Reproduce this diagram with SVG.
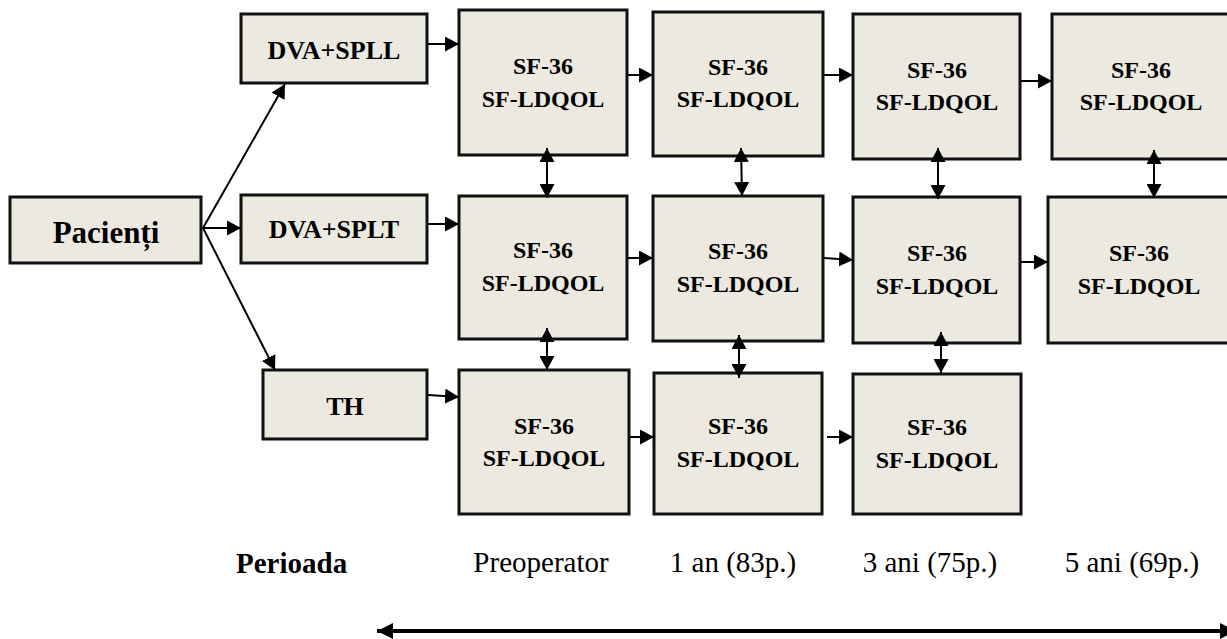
<svg xmlns="http://www.w3.org/2000/svg" width="1227" height="639" viewBox="0 0 1227 639">
  <style>
    .box { fill: #ECEAE0; stroke: #111; stroke-width: 3; }
    .lbl { font-family: "Liberation Serif", "Times New Roman", serif; font-weight: bold; fill: #000; text-anchor: middle; }
    .sf { font-size: 24px; }
    .per { font-family: "Liberation Serif", "Times New Roman", serif; font-size: 29px; fill: #000; text-anchor: middle; }
    .con { stroke: #000; stroke-width: 2; fill: none; marker-end: url(#ah); }
    .dbl { stroke: #000; stroke-width: 2; fill: none; marker-start: url(#ah); marker-end: url(#ah); }
  </style>
  <defs>
    <marker id="ah" markerUnits="userSpaceOnUse" markerWidth="14" markerHeight="15" refX="14" refY="7.5" orient="auto-start-reverse">
      <path d="M0,0 L14,7.5 L0,15 z" fill="#000"/>
    </marker>
    <marker id="ahBig" markerUnits="userSpaceOnUse" markerWidth="16" markerHeight="16" refX="16" refY="8" orient="auto-start-reverse">
      <path d="M0,0 L16,8 L0,16 z" fill="#000"/>
    </marker>
  </defs>

  <rect width="1227" height="639" fill="#fff"/>

  <!-- patient groups -->
  <g id="pacienti">
    <rect class="box" x="10" y="197" width="191" height="66"/>
    <text class="lbl" x="106" y="243" font-size="31">Pacienți</text>
  </g>
  <g id="dva-spll">
    <rect class="box" x="241" y="14" width="186" height="69"/>
    <text class="lbl" x="334" y="59" font-size="26">DVA+SPLL</text>
  </g>
  <g id="dva-splt">
    <rect class="box" x="241" y="195" width="186" height="68"/>
    <text class="lbl" x="334" y="238" font-size="26">DVA+SPLT</text>
  </g>
  <g id="th">
    <rect class="box" x="263" y="370" width="164" height="69"/>
    <text class="lbl" x="345" y="415" font-size="26">TH</text>
  </g>

  <!-- row 1: DVA+SPLL -->
  <g id="r1-preop">
    <rect class="box" x="459" y="10" width="168" height="145"/>
    <text class="lbl sf" x="543" y="74">SF-36</text>
    <text class="lbl sf" x="543" y="107">SF-LDQOL</text>
  </g>
  <g id="r1-1an">
    <rect class="box" x="653" y="12" width="170" height="144"/>
    <text class="lbl sf" x="738" y="75">SF-36</text>
    <text class="lbl sf" x="738" y="107">SF-LDQOL</text>
  </g>
  <g id="r1-3ani">
    <rect class="box" x="853" y="14" width="167" height="145"/>
    <text class="lbl sf" x="937" y="78">SF-36</text>
    <text class="lbl sf" x="937" y="110">SF-LDQOL</text>
  </g>
  <g id="r1-5ani">
    <rect class="box" x="1052" y="14" width="180" height="145"/>
    <text class="lbl sf" x="1141" y="78">SF-36</text>
    <text class="lbl sf" x="1141" y="110">SF-LDQOL</text>
  </g>

  <!-- row 2: DVA+SPLT -->
  <g id="r2-preop">
    <rect class="box" x="459" y="196" width="168" height="143"/>
    <text class="lbl sf" x="543" y="258">SF-36</text>
    <text class="lbl sf" x="543" y="291">SF-LDQOL</text>
  </g>
  <g id="r2-1an">
    <rect class="box" x="653" y="196" width="170" height="145"/>
    <text class="lbl sf" x="738" y="259">SF-36</text>
    <text class="lbl sf" x="738" y="292">SF-LDQOL</text>
  </g>
  <g id="r2-3ani">
    <rect class="box" x="853" y="197" width="167" height="146"/>
    <text class="lbl sf" x="937" y="261">SF-36</text>
    <text class="lbl sf" x="937" y="294">SF-LDQOL</text>
  </g>
  <g id="r2-5ani">
    <rect class="box" x="1048" y="197" width="184" height="146"/>
    <text class="lbl sf" x="1139" y="261">SF-36</text>
    <text class="lbl sf" x="1139" y="294">SF-LDQOL</text>
  </g>

  <!-- row 3: TH -->
  <g id="r3-preop">
    <rect class="box" x="459" y="370" width="170" height="144"/>
    <text class="lbl sf" x="544" y="434">SF-36</text>
    <text class="lbl sf" x="544" y="466">SF-LDQOL</text>
  </g>
  <g id="r3-1an">
    <rect class="box" x="654" y="373" width="168" height="141"/>
    <text class="lbl sf" x="738" y="434">SF-36</text>
    <text class="lbl sf" x="738" y="467">SF-LDQOL</text>
  </g>
  <g id="r3-3ani">
    <rect class="box" x="853" y="374" width="168" height="140"/>
    <text class="lbl sf" x="937" y="435">SF-36</text>
    <text class="lbl sf" x="937" y="468">SF-LDQOL</text>
  </g>

  <!-- follow-up periods -->
  <g id="perioade">
    <text x="236" y="573" font-family="Liberation Serif, Times New Roman, serif" font-weight="bold" font-size="29" fill="#000">Perioada</text>
    <text class="per" x="541" y="572">Preoperator</text>
    <text class="per" x="733" y="572">1 an (83p.)</text>
    <text class="per" x="930" y="572">3 ani (75p.)</text>
    <text class="per" x="1132" y="572">5 ani (69p.)</text>
  </g>

  <!-- connectors, drawn over the boxes so arrowheads stay visible -->
  <g id="connectors">
    <!-- from Pacienți to the three groups -->
    <line class="con" x1="203" y1="228" x2="285" y2="84"/>
    <line class="con" x1="203" y1="228" x2="241" y2="228"/>
    <line class="con" x1="203" y1="228" x2="275" y2="370"/>
    <!-- groups to preoperator assessment -->
    <line class="con" x1="428" y1="44" x2="459" y2="44"/>
    <line class="con" x1="428" y1="224" x2="459" y2="224"/>
    <line class="con" x1="428" y1="395" x2="459" y2="397"/>
    <!-- row 1 timeline -->
    <line class="con" x1="628" y1="75" x2="653" y2="75"/>
    <line class="con" x1="824" y1="75" x2="853" y2="75"/>
    <line class="con" x1="1021" y1="81" x2="1052" y2="81"/>
    <!-- row 2 timeline -->
    <line class="con" x1="628" y1="258" x2="653" y2="258"/>
    <line class="con" x1="824" y1="258" x2="853" y2="260"/>
    <line class="con" x1="1021" y1="262" x2="1048" y2="262"/>
    <!-- row 3 timeline -->
    <line class="con" x1="630" y1="437" x2="654" y2="437"/>
    <line class="con" x1="827" y1="437" x2="853" y2="437"/>
    <!-- comparisons between rows -->
    <line class="dbl" x1="547" y1="148" x2="547" y2="198"/>
    <line class="dbl" x1="741" y1="148" x2="742" y2="196"/>
    <line class="dbl" x1="938" y1="148" x2="938" y2="199"/>
    <line class="dbl" x1="1154" y1="150" x2="1154" y2="198"/>
    <line class="dbl" x1="547" y1="328" x2="547" y2="370"/>
    <line class="dbl" x1="739" y1="335" x2="739" y2="378"/>
    <line class="dbl" x1="941" y1="332" x2="941" y2="373"/>
    <!-- time axis -->
    <line x1="377" y1="631" x2="1236" y2="631" stroke="#000" stroke-width="4" marker-start="url(#ahBig)" marker-end="url(#ahBig)"/>
  </g>
</svg>
